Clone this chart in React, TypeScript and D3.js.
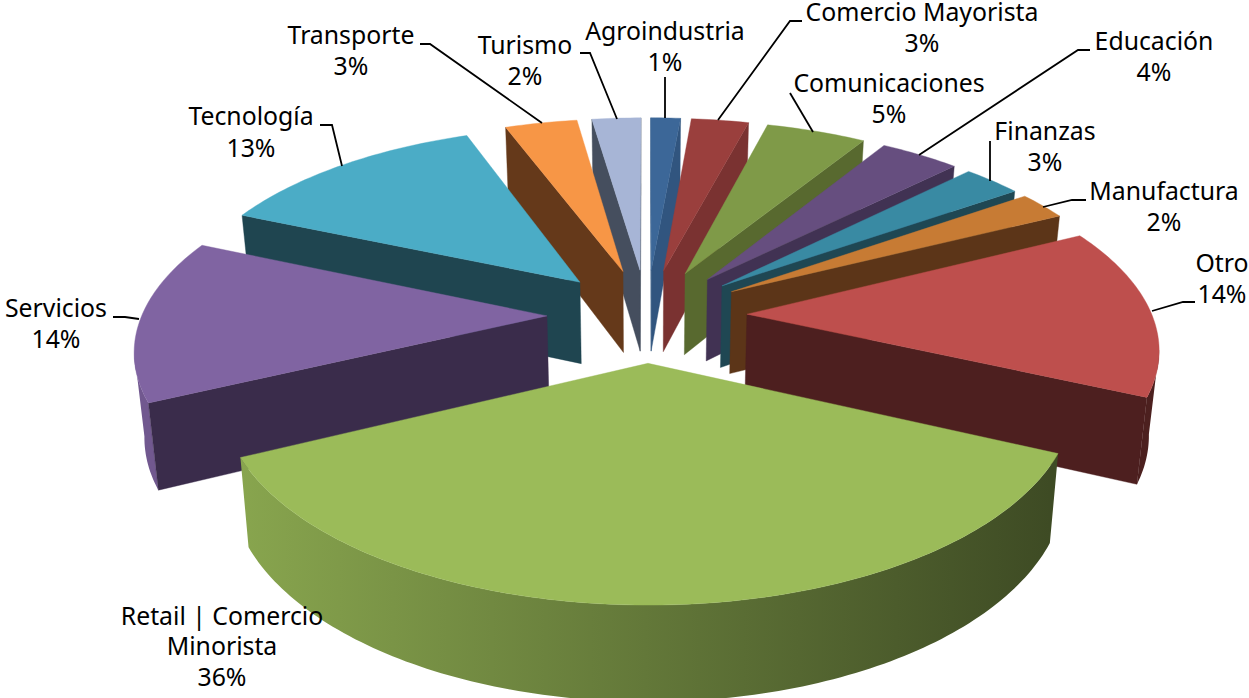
import React from "react";
import * as d3 from "d3";

// ---- data ----
const categories = ["Agroindustria","Comercio Mayorista","Comunicaciones","Educación","Finanzas","Manufactura","Otro","Retail | Comercio Minorista","Servicios","Tecnología","Transporte","Turismo"];
const shares = [1.4,2.7,4.7,3.75,2.75,2.35,14.15,36.1,13.6,12.8,3.4,2.3];

// ---- styles ----
const topColors = ["#3C6798","#9A3F3D","#7F9A48","#664E7F","#398AA3","#C77B34","#BE4F4D","#9BBB59","#8064A2","#4BACC6","#F79646","#A7B5D6"];
const wallColors = ["#31557F","#7A3231","#58692F","#413253","#1F4753","#5C3518","#4D1F1F","#3D4A21","#3A2C4B","#1F4550","#65391A","#454E5E"];

// ---- layout of the text ----
const labelLayout: [number, number[]][] = [
  [665,[40,71]],[922,[21,52]],[889,[92,123]],[1154,[50,81]],[1045,[140,171]],[1164,[200,231]],
  [1222,[272,303]],[222,[625,655,686]],[56,[317,348]],[251,[125,157]],[351,[44,75]],[525,[54,85]],
];
const labelLines = ["","","","","","","","Retail | Comercio\nMinorista","","","",""];
const leaders: [number,number][][] = [
  [[665,77],[665,118]],
  [[802,21],[790,21],[718,120]],
  [[790,93],[813,132]],
  [[1090,50],[1078,50],[919,155]],
  [[990,141],[990,181]],
  [[1086,200],[1072,200],[1043,207]],
  [[1195,302],[1183,302],[1152,311]],
  [],
  [[113,317],[125,317],[139,319]],
  [[320,125],[332,125],[342,166]],
  [[420,44],[430,44],[542,123]],
  [[580,53],[590,53],[617,119]],
];

// ---- projection ----
const W = 1249, H = 698;
const CX = 647, CY = 315, R = 405, E = 100, D = 2650, K = 0.465, DEPTH = 83, TAPER = 0.02;
const project = (u: number, v: number, z = 0): [number, number] => {
  const s = D / (D + v);
  const t = 1 - TAPER * z;
  return [CX + u * s * t, CY - K * v * s * t + z * DEPTH * s];
};
const shade = d3.scaleLinear().domain([240, 1050]).range([0.88, 0.4]).clamp(true);
const pct = d3.format(".0%");
const total = d3.sum(shares);
const line = d3.line();

const arcs = d3.pie<number>().sort(null).value((d) => d)(shares).map((a, i) => {
  const mid = (a.startAngle + a.endAngle) / 2;
  const au = E * Math.sin(mid), av = E * Math.cos(mid);
  const n = Math.max(4, Math.ceil((a.endAngle - a.startAngle) / (Math.PI / 180)));
  const rim = d3.range(n + 1).map((j) => {
    const t = a.startAngle + ((a.endAngle - a.startAngle) * j) / n;
    return [au + R * Math.sin(t), av + R * Math.cos(t)] as [number, number];
  });
  return { i, mid, apex: [au, av] as [number, number], rim };
});
const paintOrder = d3.range(arcs.length).sort((a, b) => Math.cos(arcs[b].mid) < Math.cos(arcs[a].mid) ? -1 : 1);

const wallPath = (pts: [number, number][]) => {
  const top = pts.map(([u, v]) => project(u, v, 0));
  const bot = pts.map(([u, v]) => project(u, v, 1)).reverse();
  return line([...top, ...bot]) + "Z";
};
const rimRuns = (rim: [number, number][]) => {
  const runs: [number, number][][] = [];
  let cur: [number, number][] | null = null;
  for (let j = 0; j < rim.length - 1; j++) {
    const a = project(rim[j][0], rim[j][1]);
    const b = project(rim[j + 1][0], rim[j + 1][1]);
    if (b[0] < a[0]) {
      if (!cur) { cur = [rim[j]]; runs.push(cur); }
      cur.push(rim[j + 1]);
    } else cur = null;
  }
  return runs;
};
const mix = (c: string, f: number) => d3.interpolateRgb("#000", c)(f);

export default function App() {
  return (
    <svg width={W} height={H} viewBox={`0 0 ${W} ${H}`} style={{ position: "absolute", left: 0, top: 0, display: "block" }}>
      <rect width={W} height={H} fill="#fff" />
      <defs>
        {arcs.map((a) => (
          <linearGradient key={a.i} id={`rim${a.i}`} gradientUnits="userSpaceOnUse" x1={240} x2={1050} y1={0} y2={0}>
            <stop offset="0" stopColor={mix(topColors[a.i], shade(240))} />
            <stop offset="1" stopColor={mix(topColors[a.i], shade(1050))} />
          </linearGradient>
        ))}
      </defs>
      {paintOrder.map((idx) => {
        const a = arcs[idx];
        const first = a.rim[0], last = a.rim[a.rim.length - 1];
        const cuts: [number, number][][] = [[a.apex, first], [last, a.apex]].filter(
          ([p, q]) => project(q[0], q[1])[0] < project(p[0], p[1])[0]
        ) as [number, number][][];
        const topPts = [a.apex, ...a.rim].map(([u, v]) => project(u, v));
        return (
          <g key={idx}>
            {rimRuns(a.rim).map((run, k) => (
              <path key={k} d={wallPath(run)} fill={`url(#rim${idx})`} />
            ))}
            {cuts.map((c, k) => (
              <path key={k} d={wallPath(c)} fill={wallColors[idx]} stroke={wallColors[idx]} strokeWidth={0.4} />
            ))}
            <path d={line(topPts) + "Z"} fill={topColors[idx]} stroke={topColors[idx]} strokeWidth={0.4} />
          </g>
        );
      })}
      {leaders.map((l, i) => l.length ? (
        <path key={i} d={line(l) ?? ""} fill="none" stroke="#000" strokeWidth={1.8} />
      ) : null)}
      <g fontFamily="'Noto Sans', sans-serif" fontSize={24.8} fill="#000" textAnchor="middle">
        {categories.map((c, i) => {
          const [x, ys] = labelLayout[i];
          const lines = [...(labelLines[i] || c).split("\n"), pct(shares[i] / total)];
          return lines.map((t, k) => (
            <text key={k} x={x} y={ys[k]}>{t}</text>
          ));
        })}
      </g>
    </svg>
  );
}
